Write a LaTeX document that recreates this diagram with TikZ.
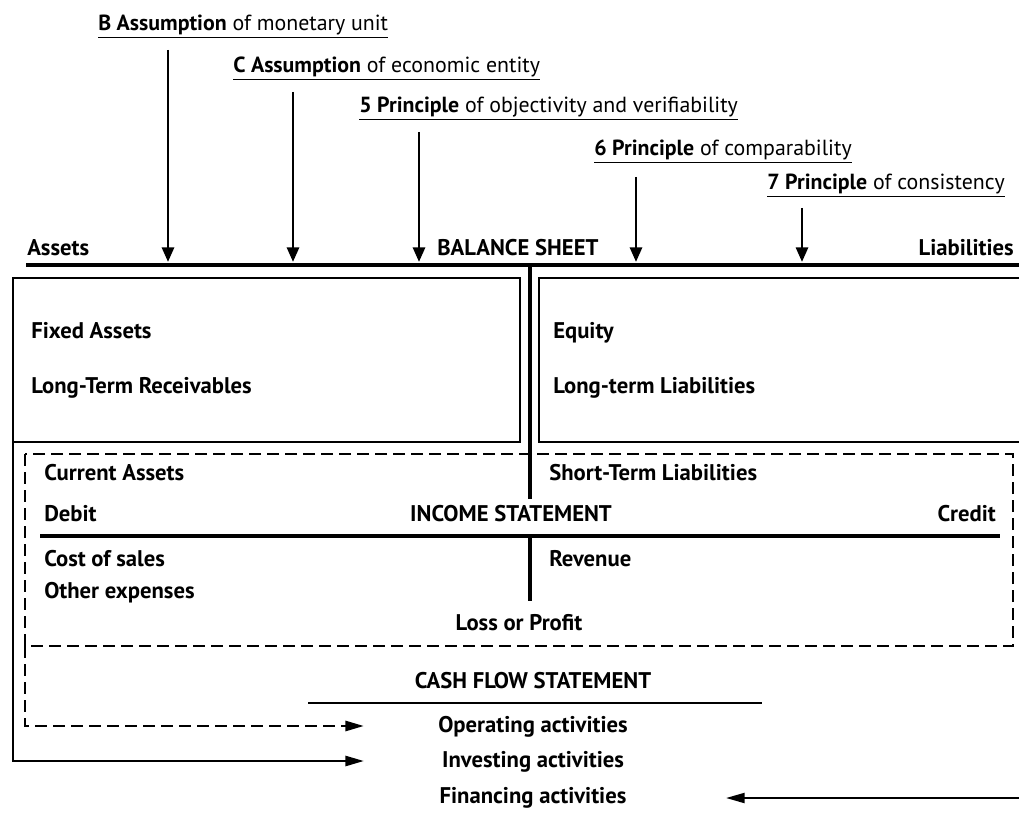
\documentclass[tikz,border=0pt]{standalone}
\usepackage{fontspec}
\setmainfont{PT Sans}
\usetikzlibrary{arrows.meta}
\begin{document}
\begin{tikzpicture}[x=0.75pt,y=-0.75pt,
  txt/.style={inner sep=0pt, font=\fontsize{16.4}{19}\selectfont},
  btxt/.style={inner sep=0pt, font=\fontsize{17}{19}\selectfont\bfseries},
  downarr/.style={line width=2.2pt, -{Triangle[length=11pt,width=9pt]}},
  sidearr/.style={line width=2pt, -{Triangle[length=14pt,width=7.5pt]}},
  thickline/.style={line width=3.4pt},
  boxline/.style={line width=2.2pt},
  dashline/.style={line width=2.1pt, dash pattern=on 9pt off 4.5pt},
  thinline/.style={line width=1pt}
]
\useasboundingbox (0,0) rectangle (1019,830);

% top labels
\node[txt, anchor=base west] (lblB) at (98,31) {\underline{\textbf{B Assumption} of monetary unit}};
\node[txt, anchor=base west] (lblC) at (233,73) {\underline{\textbf{C Assumption} of economic entity}};
\node[txt, anchor=base west] (lbl5) at (359,113) {\underline{\textbf{5 Principle} of objectivity and verifiability}};
\node[txt, anchor=base west] (lbl6) at (594,156) {\underline{\textbf{6 Principle} of comparability}};
\node[txt, anchor=base west] (lbl7) at (767,190) {\underline{\textbf{7 Principle} of consistency}};

% arrow coordinates
\coordinate (aB1) at (168,50);  \coordinate (aB2) at (168,262);
\coordinate (aC1) at (293,92);  \coordinate (aC2) at (293,262);
\coordinate (a51) at (419,132); \coordinate (a52) at (419,262);
\coordinate (a61) at (636,177); \coordinate (a62) at (636,262);
\coordinate (a71) at (802,208); \coordinate (a72) at (802,262);
\draw[downarr] (aB1) -- (aB2);
\draw[downarr] (aC1) -- (aC2);
\draw[downarr] (a51) -- (a52);
\draw[downarr] (a61) -- (a62);
\draw[downarr] (a71) -- (a72);

% balance sheet header
\node[btxt, anchor=base west] (assets) at (27,256) {Assets};
\node[btxt, anchor=base west] (bs) at (437,256) {BALANCE SHEET};
\node[btxt, anchor=base east] (liab) at (1014,256) {Liabilities};
\coordinate (bsL) at (26,265); \coordinate (bsR) at (1019,265);
\draw[thickline] (bsL) -- (bsR);

% T vertical of balance sheet
\coordinate (v1) at (530,265); \coordinate (v2) at (530,499);
\draw[line width=3.6pt] (v1) -- (v2);

% boxes
\draw[boxline] (13,278) rectangle (520,442);
\draw[boxline] (539,278) rectangle (1030,442);

\node[btxt, anchor=base west] (fixed) at (31,338) {Fixed Assets};
\node[btxt, anchor=base west] (ltr) at (31,393) {Long-Term Receivables};
\node[btxt, anchor=base west] (equity) at (553,338) {Equity};
\node[btxt, anchor=base west] (ltl) at (553,393) {Long-term Liabilities};

% dashed region
\draw[dashline] (25,454) rectangle (1013,646);

\node[btxt, anchor=base west] (ca) at (44,480) {Current Assets};
\node[btxt, anchor=base west] (stl) at (549,480) {Short-Term Liabilities};
\node[btxt, anchor=base west] (debit) at (44,521) {Debit};
\node[btxt, anchor=base] (is) at (511,521) {INCOME STATEMENT};
\node[btxt, anchor=base east] (credit) at (996,521) {Credit};
\coordinate (isL) at (40,536); \coordinate (isR) at (1000,536);
\draw[line width=3.6pt] (isL) -- (isR);
\coordinate (w1) at (530,536); \coordinate (w2) at (530,601);
\draw[line width=3.6pt] (w1) -- (w2);
\node[btxt, anchor=base west] (cos) at (44,566) {Cost of sales};
\node[btxt, anchor=base west] (rev) at (549,566) {Revenue};
\node[btxt, anchor=base west] (oe) at (44,598) {Other expenses};
\node[btxt, anchor=base] (lp) at (519,630) {Loss or Profit};

% cash flow statement
\node[btxt, anchor=base] (cfs) at (533,688) {CASH FLOW STATEMENT};
\coordinate (cfL) at (308,703); \coordinate (cfR) at (762,703);
\draw[thinline] (cfL) -- (cfR);
\node[btxt, anchor=base] (op) at (533,732) {Operating activities};
\node[btxt, anchor=base] (inv) at (533,767) {Investing activities};
\node[btxt, anchor=base] (fin) at (533,803) {Financing activities};

% flows
\coordinate (dl1) at (25,646); \coordinate (dl2) at (25,726); \coordinate (opT) at (364,726);
\draw[dashline, -{Triangle[length=14pt,width=7.5pt]}] (dl1) -- (dl2) -- (opT);
\coordinate (sl1) at (13,442); \coordinate (sl2) at (13,761); \coordinate (invT) at (364,761);
\draw[sidearr] (sl1) -- (sl2) -- (invT);
\coordinate (fr) at (1019,798); \coordinate (finT) at (726,798);
\draw[line width=1.6pt, -{Triangle[length=14pt,width=7.5pt]}] (fr) -- (finT);
\end{tikzpicture}
\end{document}
